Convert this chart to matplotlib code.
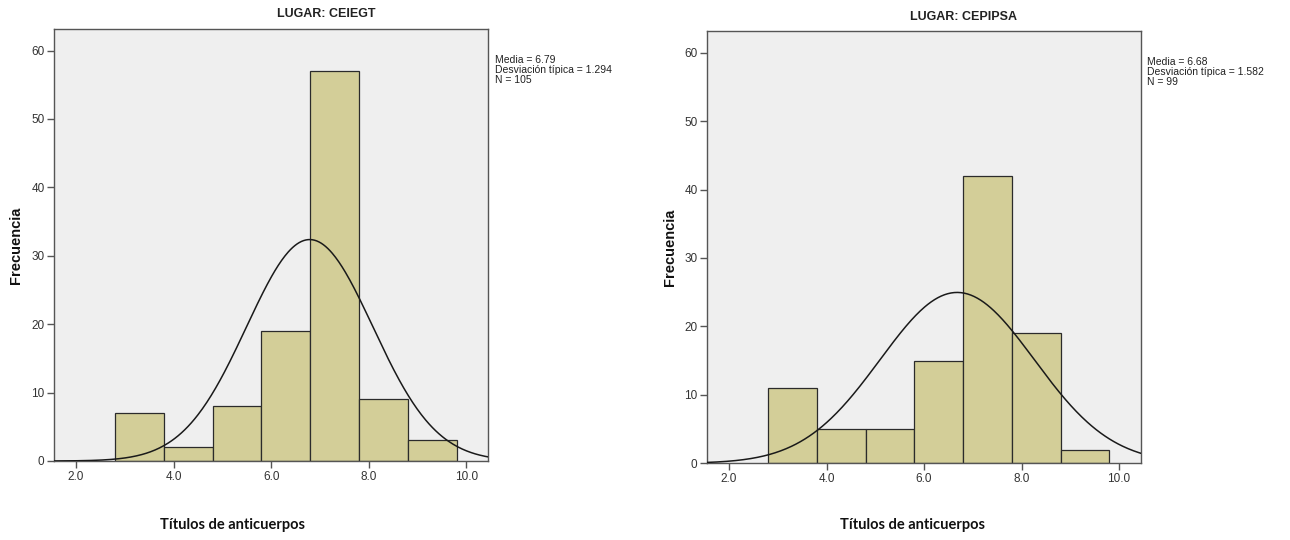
import numpy as np
import matplotlib
matplotlib.use("Agg")
import matplotlib.pyplot as plt

# bins (edges) and frequencies
bin_edges = [2.8, 3.8, 4.8, 5.8, 6.8, 7.8, 8.8, 9.8]
ceiegt_counts = [7, 2, 8, 19, 57, 9, 3]
cepipsa_counts = [11, 5, 5, 15, 42, 19, 2]

ceiegt_stats = {"media": 6.79, "sd": 1.294, "n": 105}
cepipsa_stats = {"media": 6.68, "sd": 1.582, "n": 99}

xticks = [2.0, 4.0, 6.0, 8.0, 10.0]
yticks = [0, 10, 20, 30, 40, 50, 60]

SANS = ["Liberation Sans", "DejaVu Sans"]
BAR = "#d3ce98"
BG = "#efefef"
FRAME = "#555555"

fig = plt.figure(figsize=(12.9, 5.4), dpi=100)


def panel(rect, counts, stats, title, title_x, title_y, stats_x, stats_y, ylab_x, xlab_x):
    ax = fig.add_axes(rect)
    ax.set_facecolor(BG)
    lefts = bin_edges[:-1]
    widths = np.diff(bin_edges)
    ax.bar(lefts, counts, width=widths, align="edge", color=BAR,
           edgecolor="#2b2b2b", linewidth=0.9, zorder=2)

    # normal curve scaled to the counts (bin width 1)
    xs = np.linspace(1.5, 10.5, 400)
    mu, sd, n = stats["media"], stats["sd"], stats["n"]
    ys = n * 1.0 / (sd * np.sqrt(2 * np.pi)) * np.exp(-0.5 * ((xs - mu) / sd) ** 2)
    ax.plot(xs, ys, color="#1a1a1a", linewidth=1.1, zorder=3)

    ax.set_xlim(1.555, 10.445)
    ax.set_ylim(0, 63.2)
    ax.set_xticks(xticks)
    ax.set_xticklabels([f"{t:.1f}" for t in xticks])
    ax.set_yticks(yticks)
    for s in ax.spines.values():
        s.set_color(FRAME)
        s.set_linewidth(1.0)
    ax.tick_params(direction="out", length=5, width=1.0, color=FRAME,
                   labelsize=8.5, labelcolor="#333333", pad=2)
    for lab in ax.get_xticklabels() + ax.get_yticklabels():
        lab.set_family(SANS)

    fig.text(title_x / 1290, 1 - title_y / 540, title, ha="center", va="center",
             fontsize=9, fontweight="bold", family=SANS, color="#222222")
    fig.text(stats_x / 1290, 1 - stats_y / 540,
             f"Media = {mu:.2f}\nDesviación típica = {sd:.3f}\nN = {n}",
             ha="left", va="top", fontsize=7.5, family=SANS,
             color="#222222", linespacing=1.0)
    fig.text(ylab_x / 1290, rect[1] + rect[3] / 2, "Frecuencia", rotation=90,
             ha="center", va="center", fontsize=10.5, fontweight="bold",
             family=SANS, color="#111111")
    fig.text(xlab_x / 1290, 1 - 525 / 540, "Títulos de anticuerpos", ha="center",
             va="center", fontsize=10.5, fontweight="bold",
             family=["Lato", "DejaVu Sans"], color="#111111")
    return ax


panel([0.0421, 0.1463, 0.3362, 0.8006], ceiegt_counts, ceiegt_stats,
      "LUGAR: CEIEGT", 326, 14, 495, 55, 16, 232)
panel([0.5483, 0.1420, 0.3360, 0.8011], cepipsa_counts, cepipsa_stats,
      "LUGAR: CEPIPSA", 963, 17, 1147, 57, 670, 912)

fig.savefig("out.png", dpi=100)
